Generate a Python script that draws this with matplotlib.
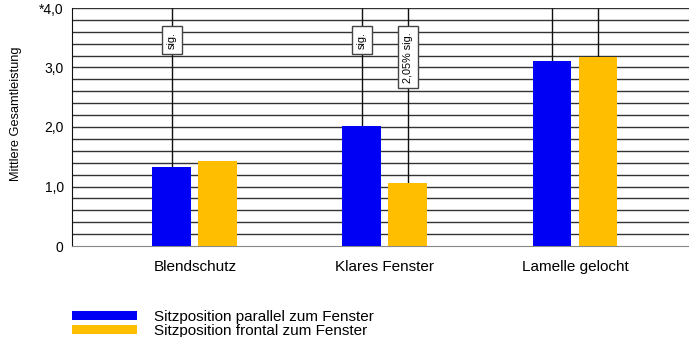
import matplotlib
matplotlib.use("Agg")  # headless
import matplotlib.pyplot as plt
import numpy as np

categories = ["Blendschutz", "Klares Fenster", "Lamelle gelocht"]
parallel = [1.33, 2.02, 3.11]
frontal = [1.43, 1.06, 3.18]
series_labels = ["Sitzposition parallel zum Fenster", "Sitzposition frontal zum Fenster"]
y_ticks = [0, 1, 2, 3, 4]
y_tick_labels = ["0", "1,0", "2,0", "3,0", "*4,0"]
y_label = "Mittlere Gesamtleistung"
# bars that carry a line up to the top, and the notes written on those lines
parallel_lines = [True, True, True]
frontal_lines = [False, True, True]
parallel_notes = ["sig.", "sig.", None]
frontal_notes = [None, "2,05% sig.", None]

BLUE = "#0000f5"
AMBER = "#ffbf00"

plt.rcParams["font.family"] = ["Liberation Sans", "DejaVu Sans"]

fig = plt.figure(figsize=(6.89, 3.37), dpi=100)
ax = fig.add_axes([72 / 689, 91 / 337, 617 / 689, 238 / 337])

x = np.arange(len(categories))
off, width = 0.121, 0.205
b1 = ax.bar(x - off, parallel, width, color=BLUE, label=series_labels[0], zorder=3)
b2 = ax.bar(x + off, frontal, width, color=AMBER, label=series_labels[1], zorder=3)

ax.set_xlim(-0.647, 2.6)
ax.set_ylim(0, 4)

# horizontal rules every 0.2
ax.hlines(np.arange(0.2, 4.01, 0.2), -0.647, 2.6, color="#333333", lw=1.0, zorder=1)

# lines from bar tops up to the top of the scale
for xs, vals, flags in ((x - off, parallel, parallel_lines), (x + off, frontal, frontal_lines)):
    for xi, v, f in zip(xs, vals, flags):
        if f:
            ax.vlines(xi, v, 4.0, color="#111111", lw=1.0, zorder=2)

for xs, notes in ((x - off, parallel_notes), (x + off, frontal_notes)):
    for xi, note in zip(xs, notes):
        if note:
            ax.text(xi, 3.60, note, rotation=90, ha="center", va="top",
                    fontsize=7.8, zorder=4,
                    bbox=dict(boxstyle="square,pad=0.5", fc="white", ec="#444444", lw=1.0))

for side in ("top", "right"):
    ax.spines[side].set_visible(False)
ax.spines["left"].set_color("#111111")
ax.spines["bottom"].set_color("#888888")

ax.set_xticks(x)
ax.set_xticklabels(categories)
ax.set_yticks(y_ticks)
ax.set_yticklabels(y_tick_labels)
ax.tick_params(axis="x", length=0, pad=10, labelsize=11)
ax.tick_params(axis="y", length=0, pad=6, labelsize=10)
ax.set_ylabel(y_label, fontsize=9.2)
ax.yaxis.set_label_coords(-0.081, 0.555)

ax.legend(handles=[b1, b2], loc="upper left", bbox_to_anchor=(72 / 689, 1 - 310 / 337),
          bbox_transform=fig.transFigure, frameon=False, fontsize=11,
          handlelength=4.25, handleheight=0.5, handletextpad=1.1,
          labelspacing=0.0, borderpad=0, borderaxespad=0)

fig.savefig("out.png", dpi=100)
